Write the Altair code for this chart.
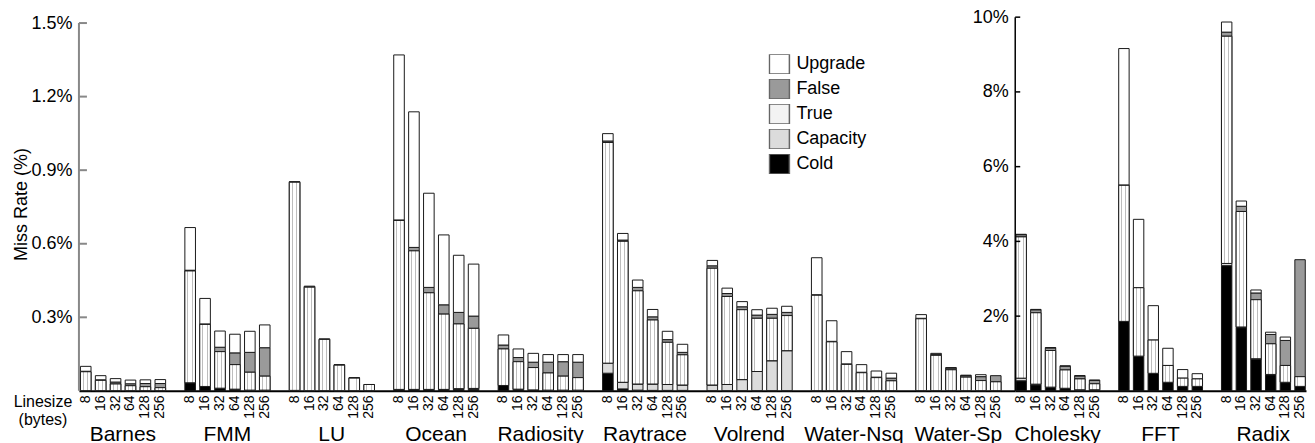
import altair as alt
import pandas as pd

LINESIZES = ["8", "16", "32", "64", "128", "256"]
COMPONENTS = ["Cold", "Capacity", "True", "False", "Upgrade"]
LEGEND_ORDER = ["Upgrade", "False", "True", "Capacity", "Cold"]
LEGEND_COLORS = ["#ffffff", "#9a9a9a", "#f3f3f3", "#dcdcdc", "#000000"]

LEFT_APPS = ["Barnes", "FMM", "LU", "Ocean", "Radiosity", "Raytrace", "Volrend", "Water-Nsq", "Water-Sp"]
RIGHT_APPS = ["Cholesky", "FFT", "Radix"]

# miss rate components (%), per linesize 8..256: cold, capacity, true, false, upgrade
barnes_cold = [0.001, 0.001, 0.001, 0.001, 0.001, 0.001]
barnes_cap = [0, 0, 0, 0, 0, 0]
barnes_true = [0.077, 0.042, 0.027, 0.020, 0.016, 0.012]
barnes_false = [0.002, 0.002, 0.008, 0.008, 0.013, 0.017]
barnes_upg = [0.020, 0.017, 0.014, 0.015, 0.015, 0.016]

fmm_cold = [0.033, 0.018, 0.011, 0.007, 0.003, 0.003]
fmm_cap = [0, 0, 0, 0, 0, 0]
fmm_true = [0.456, 0.253, 0.149, 0.100, 0.073, 0.057]
fmm_false = [0.003, 0.002, 0.018, 0.048, 0.081, 0.116]
fmm_upg = [0.174, 0.104, 0.066, 0.076, 0.086, 0.093]

lu_cold = [0.002, 0.001, 0.001, 0.001, 0.001, 0.001]
lu_cap = [0, 0, 0, 0, 0, 0]
lu_true = [0.849, 0.422, 0.209, 0.104, 0.051, 0.025]
lu_false = [0.002, 0.004, 0.002, 0.002, 0.002, 0]
lu_upg = [0, 0, 0, 0, 0, 0]

ocean_cold = [0.006, 0.006, 0.006, 0.006, 0.006, 0.006]
ocean_cap = [0, 0, 0, 0, 0.003, 0.004]
ocean_true = [0.689, 0.565, 0.394, 0.307, 0.264, 0.245]
ocean_false = [0.002, 0.014, 0.022, 0.038, 0.047, 0.050]
ocean_upg = [0.673, 0.553, 0.384, 0.285, 0.233, 0.212]

radiosity_cold = [0.022, 0.007, 0.004, 0.003, 0.003, 0.003]
radiosity_cap = [0, 0, 0, 0, 0, 0]
radiosity_true = [0.149, 0.112, 0.091, 0.070, 0.057, 0.051]
radiosity_false = [0.016, 0.017, 0.022, 0.044, 0.059, 0.063]
radiosity_upg = [0.041, 0.035, 0.036, 0.031, 0.029, 0.031]

raytrace_cold = [0.072, 0.008, 0.003, 0.002, 0.002, 0.002]
raytrace_cap = [0.041, 0.027, 0.025, 0.026, 0.024, 0.022]
raytrace_true = [0.900, 0.575, 0.380, 0.261, 0.172, 0.123]
raytrace_false = [0.006, 0.005, 0.014, 0.013, 0.011, 0.010]
raytrace_upg = [0.030, 0.027, 0.030, 0.030, 0.034, 0.033]

volrend_cold = [0.001, 0.001, 0.001, 0.001, 0.001, 0.001]
volrend_cap = [0.023, 0.025, 0.045, 0.078, 0.122, 0.163]
volrend_true = [0.476, 0.359, 0.285, 0.217, 0.173, 0.143]
volrend_false = [0.010, 0.012, 0.012, 0.013, 0.016, 0.013]
volrend_upg = [0.022, 0.022, 0.021, 0.022, 0.025, 0.025]

waternsq_cold = [0.001, 0.001, 0.001, 0.001, 0.001, 0.001]
waternsq_cap = [0, 0, 0, 0, 0, 0]
waternsq_true = [0.389, 0.199, 0.107, 0.073, 0.053, 0.040]
waternsq_false = [0.002, 0.002, 0.002, 0.002, 0.002, 0.011]
waternsq_upg = [0.151, 0.084, 0.050, 0.031, 0.025, 0.020]

watersp_cold = [0.001, 0.001, 0.001, 0.001, 0.001, 0.001]
watersp_cap = [0, 0, 0, 0, 0, 0]
watersp_true = [0.293, 0.144, 0.085, 0.055, 0.041, 0.036]
watersp_false = [0.002, 0.004, 0.007, 0.006, 0.016, 0.025]
watersp_upg = [0.015, 0.004, 0.002, 0.002, 0.008, 0]

cholesky_cold = [0.27, 0.16, 0.09, 0.06, 0.02, 0.02]
cholesky_cap = [0.07, 0.02, 0.01, 0.01, 0.01, 0.01]
cholesky_true = [3.78, 1.91, 0.98, 0.49, 0.29, 0.16]
cholesky_false = [0.06, 0.08, 0.07, 0.10, 0.08, 0.09]
cholesky_upg = [0.01, 0.01, 0.01, 0.01, 0.01, 0.01]

fft_cold = [1.86, 0.93, 0.47, 0.23, 0.12, 0.12]
fft_cap = [0, 0, 0, 0, 0, 0]
fft_true = [3.64, 1.83, 0.89, 0.45, 0.22, 0.20]
fft_false = [0.01, 0, 0, 0, 0, 0]
fft_upg = [3.65, 1.83, 0.92, 0.46, 0.23, 0.14]

radix_cold = [3.35, 1.69, 0.85, 0.43, 0.22, 0.12]
radix_cap = [0.06, 0.02, 0.01, 0.01, 0.01, 0]
radix_true = [6.08, 3.09, 1.58, 0.82, 0.45, 0.26]
radix_false = [0.11, 0.14, 0.18, 0.25, 0.67, 3.13]
radix_upg = [0.27, 0.14, 0.08, 0.06, 0.09, 0]

LEFT_TICKS = [0.3, 0.6, 0.9, 1.2, 1.5]
RIGHT_TICKS = [2, 4, 6, 8, 10]

APP_COMPS = {
    "Barnes": [barnes_cold, barnes_cap, barnes_true, barnes_false, barnes_upg],
    "FMM": [fmm_cold, fmm_cap, fmm_true, fmm_false, fmm_upg],
    "LU": [lu_cold, lu_cap, lu_true, lu_false, lu_upg],
    "Ocean": [ocean_cold, ocean_cap, ocean_true, ocean_false, ocean_upg],
    "Radiosity": [radiosity_cold, radiosity_cap, radiosity_true, radiosity_false, radiosity_upg],
    "Raytrace": [raytrace_cold, raytrace_cap, raytrace_true, raytrace_false, raytrace_upg],
    "Volrend": [volrend_cold, volrend_cap, volrend_true, volrend_false, volrend_upg],
    "Water-Nsq": [waternsq_cold, waternsq_cap, waternsq_true, waternsq_false, waternsq_upg],
    "Water-Sp": [watersp_cold, watersp_cap, watersp_true, watersp_false, watersp_upg],
    "Cholesky": [cholesky_cold, cholesky_cap, cholesky_true, cholesky_false, cholesky_upg],
    "FFT": [fft_cold, fft_cap, fft_true, fft_false, fft_upg],
    "Radix": [radix_cold, radix_cap, radix_true, radix_false, radix_upg],
}

H = 374
FONT = "Liberation Sans"

HATCH = alt.LinearGradient(
    gradient="linear", x1=0, y1=0, x2=1, y2=0,
    stops=[
        alt.GradientStop(color="#ffffff", offset=0.0),
        alt.GradientStop(color="#ffffff", offset=0.24),
        alt.GradientStop(color="#bdbdbd", offset=0.24),
        alt.GradientStop(color="#bdbdbd", offset=0.33),
        alt.GradientStop(color="#ffffff", offset=0.33),
        alt.GradientStop(color="#ffffff", offset=0.64),
        alt.GradientStop(color="#bdbdbd", offset=0.64),
        alt.GradientStop(color="#bdbdbd", offset=0.73),
        alt.GradientStop(color="#ffffff", offset=0.73),
        alt.GradientStop(color="#ffffff", offset=1.0),
    ],
)


def build_rows(apps):
    rows = []
    for app in apps:
        comps = APP_COMPS[app]
        for j, ls in enumerate(LINESIZES):
            cum = 0.0
            for c, name in enumerate(COMPONENTS):
                v = comps[c][j]
                if v > 0:
                    rows.append({"app": app, "slot": f"{app}|{ls}", "comp": name,
                                 "y0": cum, "y1": cum + v})
                cum += v
    return pd.DataFrame(rows)


def build_slots(apps):
    slots = []
    for i, app in enumerate(apps):
        slots += [f"{app}|{ls}" for ls in LINESIZES]
        if i < len(apps) - 1:
            slots.append(f"gap|{i}")
    return slots


def panel(apps, width, ymax, ticks, top_tick, fmt, po, align, axis_color, axis_w,
          tick_len, title, legend):
    df = build_rows(apps)
    slots = build_slots(apps)
    xs = alt.Scale(domain=slots, paddingInner=0.29, paddingOuter=po, align=align)
    xa = alt.Axis(title=None, ticks=False, labelAngle=270, labelFontSize=14,
                  labelPadding=4, labelColor="#000", domainColor="#000", domainWidth=2,
                  labelExpr="indexof(datum.value, 'gap') == 0 ? '' : split(datum.value, '|')[1]")
    ys = alt.Scale(domain=[0, ymax], nice=False, zero=True)
    ya = alt.Axis(values=ticks, labelExpr=fmt, domain=False, ticks=False, grid=False,
                  labelPadding=7, labelFontSize=18, labelColor="#000",
                  titleFontSize=18, titleFontWeight="normal", titleColor="#000", titlePadding=0)
    X = alt.X("slot:N", scale=xs, axis=xa)

    def Y(f):
        return alt.Y(f, scale=ys, axis=ya, title=title)

    color = alt.Color("comp:N", scale=alt.Scale(domain=LEGEND_ORDER, range=LEGEND_COLORS),
                      legend=legend)
    bars = alt.Chart(df).mark_bar(stroke="#1a1a1a", strokeWidth=1).encode(
        x=X, y=Y("y0:Q"), y2="y1:Q", color=color)
    hatch = alt.Chart(df).transform_filter("datum.comp == 'True'").mark_bar(
        fill=HATCH, stroke="#1a1a1a", strokeWidth=1).encode(x=X, y=Y("y0:Q"), y2="y1:Q")
    axline = alt.Chart(pd.DataFrame({"a": [0], "b": [top_tick]})).mark_rule(
        color=axis_color, strokeWidth=axis_w).encode(x=alt.value(0), y=Y("a:Q"), y2="b:Q")
    tickm = alt.Chart(pd.DataFrame({"v": ticks})).mark_rule(
        color=axis_color, strokeWidth=axis_w).encode(
        x=alt.value(0), x2=alt.value(tick_len), y=Y("v:Q"))
    names = alt.Chart(pd.DataFrame({"app": apps, "slot": [f"{a}|32" for a in apps]})).mark_text(
        fontSize=21, baseline="alphabetic", dx=2, color="#000").encode(
        x=alt.X("slot:N", scale=xs, axis=xa, bandPosition=1),
        y=alt.value(H + 50), text="app:N")
    layers = [bars, hatch, axline, tickm, names]
    if title:
        ls = alt.Chart(pd.DataFrame({"t": ["Linesize\n(bytes)"]})).mark_text(
            fontSize=16, baseline="top", align="center", lineBreak="\n", lineHeight=18,
            color="#000").encode(x=alt.value(-36), y=alt.value(H + 3), text="t:N")
        layers.append(ls)
    return alt.layer(*layers).properties(width=width, height=H)


legend = alt.Legend(orient="none", legendX=690, legendY=37, title=None, symbolType="square",
                    symbolSize=400, symbolStrokeColor="#666", symbolStrokeWidth=1.5,
                    labelFontSize=18, labelColor="#000", labelOffset=6, rowPadding=5,
                    clipHeight=20, padding=0)

left = panel(LEFT_APPS, 937, 1.524, LEFT_TICKS, 1.5,
             "format(datum.value, '.1f') + '%'", 0.525, 0.095, "#888888", 2, 8,
             "Miss Rate (%)", legend)
right = panel(RIGHT_APPS, 291, 10, RIGHT_TICKS, 10,
              "format(datum.value, '.0f') + '%'", 0.05, 0.5, "#000000", 1.5, 5,
              None, None)

chart = alt.hconcat(left, right, spacing=0, bounds="flush").resolve_scale(
    x="independent", y="independent", color="independent"
).properties(
    padding={"left": 4, "top": 0, "right": 0, "bottom": 0}
).configure(font=FONT).configure_view(stroke=None)

chart.save("out.html", embed_options={"renderer": "svg", "actions": False})
